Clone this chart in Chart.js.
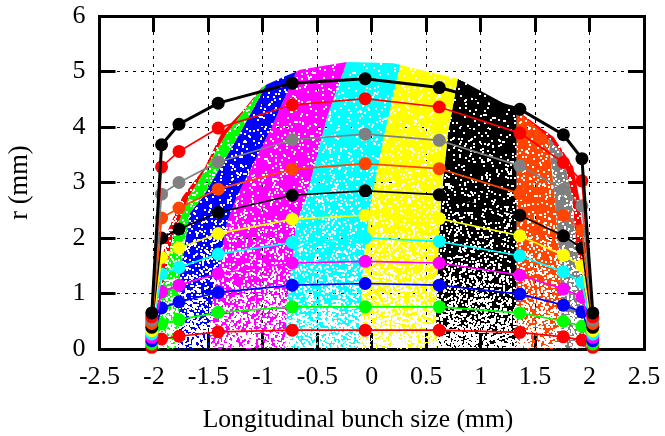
<!DOCTYPE html>
<html>
<head>
<meta charset="utf-8">
<script src="https://cdn.jsdelivr.net/npm/chart.js@4"></script>
<style>
    html, body { margin: 0; padding: 0; background: #fff; }
    canvas { display: block; filter: blur(0.5px); }
</style>
</head>
<body>
<canvas id="bunchChart" width="665" height="436"></canvas>
<script>
// tick labels and axis caption
const xTicks = [-2.5, -2, -1.5, -1, -0.5, 0, 0.5, 1, 1.5, 2, 2.5];
const yTicks = [0, 1, 2, 3, 4, 5, 6];
const xCaption = "Longitudinal bunch size (mm)";

// slice positions, shared by every curve
const curveX = [-2.02, -1.93, -1.77, -1.41, -0.73, -0.06, 0.62, 1.36, 1.76, 1.93, 2.03];

// radius curves, outermost first
const curveBlackOuter = [0.65, 3.68, 4.05, 4.43, 4.79, 4.87, 4.71, 4.32, 3.86, 3.43, 0.65];
const curveRedOuter = [0.58, 3.28, 3.56, 3.98, 4.40, 4.51, 4.36, 3.89, 3.36, 3.03, 0.58];
const curveGray = [0.52, 2.79, 3.00, 3.37, 3.77, 3.87, 3.76, 3.30, 2.88, 2.58, 0.52];
const curveOrange = [0.46, 2.36, 2.54, 2.88, 3.24, 3.34, 3.25, 2.80, 2.41, 2.14, 0.46];
const curveBlackInner = [0.39, 2.00, 2.16, 2.46, 2.77, 2.85, 2.78, 2.41, 2.04, 1.82, 0.39];
const curveYellow = [0.33, 1.65, 1.82, 2.08, 2.34, 2.41, 2.35, 2.04, 1.69, 1.50, 0.33];
const curveCyan = [0.27, 1.35, 1.47, 1.71, 1.92, 2.00, 1.94, 1.68, 1.39, 1.20, 0.27];
const curveMagenta = [0.21, 1.03, 1.15, 1.36, 1.55, 1.58, 1.55, 1.33, 1.08, 0.94, 0.21];
const curveBlue = [0.15, 0.74, 0.85, 1.02, 1.15, 1.18, 1.15, 0.99, 0.79, 0.67, 0.15];
const curveGreen = [0.09, 0.45, 0.53, 0.66, 0.76, 0.76, 0.76, 0.65, 0.50, 0.41, 0.09];
const curveRedInner = [0.03, 0.18, 0.23, 0.31, 0.34, 0.34, 0.34, 0.30, 0.22, 0.16, 0.03];

// outline of the particle cloud and the borders between its colour bands, [x, r]
const cloudLeft = [[-2.0, 0], [-2.0, 0.3], [-1.96, 1.2], [-1.88, 2.1], [-1.74, 2.74], [-1.53, 3.28], [-1.38, 3.89], [-1.18, 4.3], [-1.01, 4.71]];
const cloudTop = [[-0.78, 4.93], [-0.66, 5.03], [-0.23, 5.17], [0.2, 5.15], [0.44, 5.03], [0.81, 4.85]];
const cloudRight = [[1.33, 4.3], [1.67, 3.82], [1.85, 3.28], [1.91, 2.68], [1.95, 1.8], [2.0, 0.5], [2.0, 0]];
const edgeRedGreen = [[-1.97, 0], [-1.93, 1], [-1.83, 2], [-1.68, 2.74], [-1.33, 3.89], [-1.0, 4.72]];
const edgeGreenBlue = [[-1.8, 0], [-1.77, 0.47], [-1.76, 1.37], [-1.67, 2.45], [-1.55, 2.74], [-1.21, 3.89], [-0.97, 4.76]];
const edgeBlueMagenta = [[-1.5, 0], [-1.47, 0.76], [-1.33, 2.27], [-1.24, 2.74], [-0.93, 3.95], [-0.69, 5.0]];
const edgeMagentaCyan = [[-0.8, 0], [-0.77, 0.94], [-0.69, 2.27], [-0.6, 2.74], [-0.41, 4.18], [-0.23, 5.17]];
const edgeCyanYellow = [[-0.11, 0], [-0.08, 1.55], [0, 2.74], [0.12, 3.89], [0.26, 5.12]];
const edgeYellowBlack = [[0.6, 0], [0.59, 0.65], [0.62, 2.14], [0.64, 2.74], [0.7, 3.89], [0.79, 4.87]];
const edgeBlackOrange = [[1.33, 0], [1.33, 2.74], [1.33, 4.3]];
const edgeOrangeGray = [[1.75, 0], [1.73, 1.55], [1.68, 2.74], [1.62, 3.82]];
const edgeGrayRed = [[1.99, 0], [1.98, 0.65], [1.88, 1.84], [1.84, 2.74], [1.75, 3.53]];

const bandColors = ["#ff0000", "#00ff00", "#0000ff", "#ff00ff", "#00ffff", "#ffff00", "#000000", "#ff4500", "#808080", "#ff0000"];
const curveColors = ["#000000", "#ff0000", "#808080", "#ff4500", "#000000", "#ffff00", "#00ffff", "#ff00ff", "#0000ff", "#00ff00", "#ff0000"];
const curveValues = [curveBlackOuter, curveRedOuter, curveGray, curveOrange, curveBlackInner, curveYellow, curveCyan, curveMagenta, curveBlue, curveGreen, curveRedInner];

function fract(v) {
    return v - Math.floor(v);
}

// speckle for the cloud fill, holes get denser towards the axis. only a texture, not data
function speckle(color, shift) {
    const tile = document.createElement("canvas");
    tile.width = 256;
    tile.height = 436;
    const c = tile.getContext("2d");
    c.fillStyle = color;
    c.fillRect(0, 0, tile.width, tile.height);
    for (let i = 1; i < 60000; i++) {
        const x = fract(Math.sin(i * 12.9898 + shift) * 43758.5453) * tile.width;
        const y = fract(Math.sin(i * 78.233 + shift) * 24634.6345) * tile.height;
        const pick = fract(Math.sin(i * 37.719 + shift) * 96321.1234);
        const t = Math.min(1, Math.max(0, (y - 70) / 280));
        const density = 0.035 + 0.12 * t + 0.6 * Math.pow(t, 6);
        if (pick < density) {
            c.clearRect(Math.round(x), Math.round(y), 2, 2);
        }
    }
    return document.getElementById("bunchChart").getContext("2d").createPattern(tile, "repeat");
}

// one closed band: up the left border, over the cloud top, down the right border.
// the extra baseline points keep the filler from clipping the slanted sides
function bandPoints(left, right) {
    const topX = left[left.length - 1][0];
    const endX = right[right.length - 1][0];
    const over = cloudTop.filter((p) => p[0] > topX && p[0] < endX);
    const path = [[-2.5, 0]].concat(left, over, right.slice().reverse(), [[2.5, 0]]);
    return path.map((p) => ({ x: p[0], y: p[1] }));
}

const bandEdges = [
    [cloudLeft, edgeRedGreen],
    [edgeRedGreen, edgeGreenBlue],
    [edgeGreenBlue, edgeBlueMagenta],
    [edgeBlueMagenta, edgeMagentaCyan],
    [edgeMagentaCyan, edgeCyanYellow],
    [edgeCyanYellow, edgeYellowBlack],
    [edgeYellowBlack, edgeBlackOrange],
    [edgeBlackOrange, edgeOrangeGray],
    [edgeOrangeGray, edgeGrayRed],
    [edgeGrayRed, cloudRight.slice().reverse()],
];

const datasets = [];

curveValues.forEach((values, i) => {
    datasets.push({
        data: values.map((y, k) => ({ x: curveX[k], y: y })),
        showLine: true,
        borderColor: curveColors[i],
        backgroundColor: curveColors[i],
        borderWidth: i === 0 ? 3 : 1.7,
        pointRadius: 6.5,
        pointHoverRadius: 6.5,
        pointBorderWidth: 0,
        tension: 0,
        clip: false,
        fill: false,
        order: 1,
    });
});

bandEdges.forEach((edges, i) => {
    datasets.push({
        data: bandPoints(edges[0], edges[1]),
        showLine: true,
        borderWidth: 0,
        pointRadius: 0,
        tension: 0,
        backgroundColor: speckle(bandColors[i], i * 0.13),
        fill: "origin",
        order: 2,
    });
});

const tickFont = { family: "'Liberation Serif', serif", size: 26 };
const titleFont = { family: "'Liberation Serif', serif", size: 26.5 };

const majorGrid = {
    color: "#000",
    lineWidth: 1,
    tickLength: -16,
    tickWidth: 3,
    tickColor: "#000",
    tickBorderDash: [],
};

const sideGrid = Object.assign({}, majorGrid, { drawOnChartArea: false });
const frame = { display: true, color: "#000", width: 3, dash: [3, 5] };

// fixed plot box: the axes must not pad it for their tick labels
function fitBox(s, size) {
    if (s.isHorizontal()) {
        s.height = size;
    } else {
        s.width = size;
    }
    s.paddingLeft = 0;
    s.paddingRight = 0;
    s.paddingTop = 0;
    s.paddingBottom = 0;
}

// the caption sits left of the plot centre in the original, scale titles cannot do that
const captionPlugin = {
    id: "xCaption",
    afterDraw(chart) {
        const c = chart.ctx;
        c.save();
        c.font = "25.6px 'Liberation Serif', serif";
        c.fillStyle = "#000";
        c.textAlign = "center";
        c.textBaseline = "alphabetic";
        c.fillText(xCaption, 358, 427);
        c.restore();
    },
};

new Chart(document.getElementById("bunchChart").getContext("2d"), {
    type: "scatter",
    data: { datasets: datasets },
    plugins: [captionPlugin],
    options: {
        responsive: false,
        animation: false,
        layout: { padding: 0 },
        plugins: { legend: { display: false }, tooltip: { enabled: false } },
        scales: {
            x: {
                min: -2.5,
                max: 2.5,
                position: "bottom",
                grid: majorGrid,
                border: frame,
                afterBuildTicks: (s) => { s.ticks = xTicks.map((v) => ({ value: v })); },
                afterFit: (s) => fitBox(s, 87),
                ticks: { font: tickFont, color: "#000", padding: 29, maxRotation: 0, autoSkip: false, callback: (v) => String(v) },
            },
            xTop: {
                type: "linear",
                min: -2.5,
                max: 2.5,
                position: "top",
                grid: sideGrid,
                border: frame,
                afterBuildTicks: (s) => { s.ticks = xTicks.map((v) => ({ value: v })); },
                afterFit: (s) => fitBox(s, 16),
                ticks: { display: false },
            },
            y: {
                min: 0,
                max: 6,
                position: "left",
                grid: majorGrid,
                border: frame,
                afterBuildTicks: (s) => { s.ticks = yTicks.map((v) => ({ value: v })); },
                afterFit: (s) => fitBox(s, 99.5),
                ticks: { font: tickFont, color: "#000", padding: 30, callback: (v) => String(v) },
                title: { display: true, text: "r (mm)", font: titleFont, color: "#000", padding: { top: 4, bottom: 0 } },
            },
            yRight: {
                type: "linear",
                min: 0,
                max: 6,
                position: "right",
                grid: sideGrid,
                border: frame,
                afterBuildTicks: (s) => { s.ticks = yTicks.map((v) => ({ value: v })); },
                afterFit: (s) => fitBox(s, 21),
                ticks: { display: false },
            },
        },
    },
});
</script>
</body>
</html>
